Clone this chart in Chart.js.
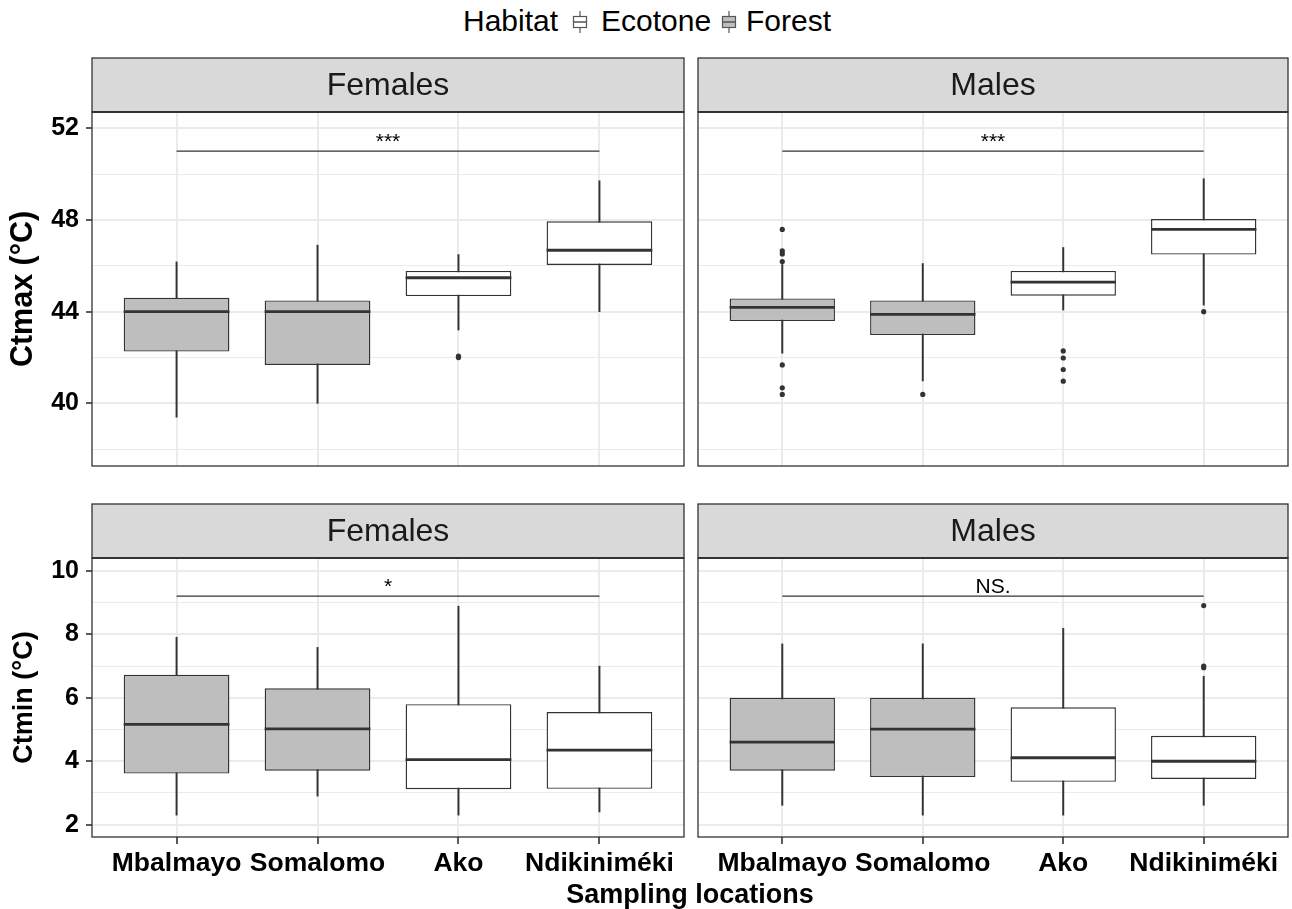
<!DOCTYPE html>
<html>
<head>
<meta charset="utf-8">
<title>Ctmax / Ctmin by sampling location</title>
<script src="https://cdn.jsdelivr.net/npm/chart.js@4.4.1/dist/chart.umd.min.js"></script>
<style>
  html, body { margin: 0; padding: 0; background: #fff; }
  #page { position: relative; width: 1292px; height: 909px; overflow: hidden;
          font-family: 'Liberation Sans', Arial, sans-serif; }
  #page canvas { position: absolute; }
  .lg { position: absolute; top: 3px; font-size: 30px; line-height: 36px; color: #000; white-space: nowrap; }
  .key { position: absolute; top: 10px; }
  #xtitle { position: absolute; left: 440px; width: 500px; top: 879px; text-align: center;
            font-size: 27px; font-weight: bold; line-height: 30px; color: #000; }
</style>
</head>
<body>
<div id="page">
  <span class="lg" style="left:463px">Habitat</span>
  <svg class="key" style="left:572px" width="16" height="24">
    <line x1="8" y1="1" x2="8" y2="23" stroke="#555" stroke-width="1.2"/>
    <rect x="1.5" y="6.5" width="13" height="11" fill="#ffffff" stroke="#555" stroke-width="1.2"/>
    <line x1="1.5" y1="12" x2="14.5" y2="12" stroke="#555" stroke-width="1.5"/>
  </svg>
  <span class="lg" style="left:601px">Ecotone</span>
  <svg class="key" style="left:721px" width="16" height="24">
    <line x1="8" y1="1" x2="8" y2="23" stroke="#555" stroke-width="1.2"/>
    <rect x="1.5" y="6.5" width="13" height="11" fill="#bebebe" stroke="#555" stroke-width="1.2"/>
    <line x1="1.5" y1="12" x2="14.5" y2="12" stroke="#555" stroke-width="1.5"/>
  </svg>
  <span class="lg" style="left:746px">Forest</span>

  <canvas id="ctmax-females" width="690" height="470" style="left:0;top:0"></canvas>
  <canvas id="ctmax-males" width="602" height="470" style="left:690px;top:0"></canvas>
  <canvas id="ctmin-females" width="690" height="439" style="left:0;top:470px"></canvas>
  <canvas id="ctmin-males" width="602" height="439" style="left:690px;top:470px"></canvas>

  <div id="xtitle">Sampling locations</div>
</div>

<script>
  // Categories
  const locations = ['Mbalmayo', 'Somalomo', 'Ako', 'Ndikiniméki'];
  const habitats = ['Forest', 'Forest', 'Ecotone', 'Ecotone'];

  // Y ticks (odd ones are the minor grid lines)
  const ctmaxTicks = [38, 40, 42, 44, 46, 48, 50, 52];
  const ctmaxLabeled = [40, 44, 48, 52];
  const ctminTicks = [2, 3, 4, 5, 6, 7, 8, 9, 10];
  const ctminLabeled = [2, 4, 6, 8, 10];

  // Ctmax - females
  const ctmaxFemLow  = [39.4, 40.0, 43.2, 44.0];
  const ctmaxFemQ1   = [42.26, 41.68, 44.68, 46.04];
  const ctmaxFemMed  = [44.0, 44.0, 45.48, 46.68];
  const ctmaxFemQ3   = [44.61, 44.49, 45.78, 47.94];
  const ctmaxFemHigh = [46.17, 46.9, 46.49, 49.71];
  const ctmaxFemOut  = [[], [], [42.0, 42.06], []];

  // Ctmax - males
  const ctmaxMalLow  = [42.19, 40.98, 44.07, 44.29];
  const ctmaxMalQ1   = [43.59, 42.98, 44.70, 46.49];
  const ctmaxMalMed  = [44.19, 43.88, 45.29, 47.59];
  const ctmaxMalQ3   = [44.58, 44.49, 45.78, 48.04];
  const ctmaxMalHigh = [46.06, 46.1, 46.8, 49.8];
  const ctmaxMalOut  = [[47.59, 46.65, 46.52, 46.19, 41.68, 40.68, 40.39], [40.39], [42.29, 41.98, 41.48, 40.97], [44.0]];

  // Ctmin - females
  const ctminFemLow  = [2.30, 2.90, 2.30, 2.40];
  const ctminFemQ1   = [3.61, 3.70, 3.12, 3.13];
  const ctminFemMed  = [5.16, 5.02, 4.05, 4.35];
  const ctminFemQ3   = [6.73, 6.30, 5.80, 5.55];
  const ctminFemHigh = [7.91, 7.59, 8.89, 7.00];
  const ctminFemOut  = [[], [], [], []];

  // Ctmin - males
  const ctminMalLow  = [2.61, 2.30, 2.30, 2.61];
  const ctminMalQ1   = [3.70, 3.50, 3.35, 3.44];
  const ctminMalMed  = [4.60, 5.01, 4.11, 4.00];
  const ctminMalQ3   = [6.00, 6.00, 5.70, 4.80];
  const ctminMalHigh = [7.70, 7.70, 8.19, 6.68];
  const ctminMalOut  = [[], [], [], [8.91, 7.0, 6.95]];

  // Significance brackets (Mbalmayo vs Ndikiniméki)
  const sigY = [51.0, 51.0, 9.21, 9.21];
  const sigLabels = ['***', '***', '*', 'NS.'];

  const FONT = "'Liberation Sans', Arial, sans-serif";
  const DARK = '#333333';
  const GRID = '#ebebeb';
  const fills = { Forest: '#bebebe', Ecotone: '#ffffff' };

  Chart.defaults.font.family = FONT;
  Chart.defaults.color = '#000';

  // strip, panel border and bracket label
  const panelDecor = {
    id: 'panelDecor',
    afterDraw(chart, args, opts) {
      const { ctx, chartArea: a } = chart;
      const h = 54;
      ctx.save();
      ctx.fillStyle = '#d9d9d9';
      ctx.fillRect(a.left, a.top - h, a.right - a.left, h);
      ctx.strokeStyle = DARK;
      ctx.lineWidth = 1.3;
      ctx.strokeRect(a.left, a.top - h, a.right - a.left, h);
      ctx.strokeRect(a.left, a.top, a.right - a.left, a.bottom - a.top);
      ctx.lineWidth = 2.2;
      ctx.beginPath();
      ctx.moveTo(a.left, a.top);
      ctx.lineTo(a.right, a.top);
      ctx.stroke();

      ctx.fillStyle = '#1a1a1a';
      ctx.font = '32px ' + FONT;
      ctx.textAlign = 'center';
      ctx.textBaseline = 'middle';
      ctx.fillText(opts.strip, (a.left + a.right) / 2, a.top - h / 2 + 1);

      const x = chart.scales.x.getPixelForValue(2.5);
      const y = chart.scales.y.getPixelForValue(opts.sigY) - 3;
      ctx.fillStyle = '#000';
      ctx.font = '21px ' + FONT;
      ctx.textBaseline = 'alphabetic';
      ctx.fillText(opts.sigLabel, x, y);
      ctx.restore();
    }
  };

  function halfBox(chart) {
    const s = chart.scales.x;
    return Math.abs(s.getPixelForValue(1.375) - s.getPixelForValue(1));
  }

  function makePanel(id, p) {
    const boxes = p.q1.map((q, i) => ({ x: i + 1, y: [q, p.q3[i]] }));
    const whiskers = p.low.map((lo, i) => ({ x: i + 1, y: [lo, p.high[i]] }));
    const medians = p.med.map((m, i) => ({ x: i + 1, y: m }));
    const outliers = [];
    p.out.forEach((list, i) => list.forEach(v => outliers.push({ x: i + 1, y: v })));

    return new Chart(document.getElementById(id), {
      type: 'bar',
      data: {
        datasets: [
          {
            type: 'scatter',
            data: medians,
            pointStyle: 'line',
            pointRadius: c => halfBox(c.chart),
            pointBorderColor: DARK,
            pointBorderWidth: 2.8,
            order: 0
          },
          {
            type: 'scatter',
            data: outliers,
            pointRadius: 2.6,
            pointBackgroundColor: DARK,
            pointBorderWidth: 0,
            order: 0
          },
          {
            type: 'line',
            data: [{ x: 1, y: p.sigY }, { x: 4, y: p.sigY }],
            borderColor: DARK,
            borderWidth: 1.3,
            pointRadius: 0,
            order: 0
          },
          {
            type: 'bar',
            data: boxes,
            backgroundColor: habitats.map(h => fills[h]),
            borderColor: DARK,
            borderWidth: 1.4,
            borderSkipped: false,
            barPercentage: 0.75,
            categoryPercentage: 1,
            grouped: false,
            order: 1
          },
          {
            type: 'bar',
            data: whiskers,
            backgroundColor: DARK,
            borderWidth: 0,
            barThickness: 1.3,
            grouped: false,
            order: 2
          }
        ]
      },
      options: {
        responsive: false,
        animation: false,
        events: [],
        layout: { padding: p.padding },
        plugins: {
          legend: { display: false },
          tooltip: { enabled: false },
          panelDecor: { strip: p.strip, sigY: p.sigY, sigLabel: p.sigLabel }
        },
        scales: {
          x: {
            type: 'linear',
            min: 0.4,
            max: 4.6,
            offset: false,
            afterBuildTicks: s => { s.ticks = locations.map((_, i) => ({ value: i + 1 })); },
            afterFit: s => {
              s.height = p.xHeight;
              s.paddingLeft = 0; s.paddingRight = 0;
            },
            border: { display: false },
            grid: {
              offset: false,
              color: GRID,
              lineWidth: 2,
              drawTicks: p.showX,
              tickLength: 7,
              tickColor: DARK,
              tickWidth: 1.6
            },
            ticks: {
              display: p.showX,
              autoSkip: false,
              maxRotation: 0,
              padding: 4,
              color: '#000',
              font: { size: 26.5, weight: 'bold' },
              callback: v => locations[v - 1]
            }
          },
          y: {
            min: p.ymin,
            max: p.ymax,
            beginAtZero: false,
            afterBuildTicks: s => { s.ticks = p.ticks.map(v => ({ value: v })); },
            afterFit: s => {
              s.width = p.yWidth;
              s.paddingTop = 0; s.paddingBottom = 0;
            },
            border: { display: false },
            grid: {
              color: GRID,
              lineWidth: c => (p.labeled.includes(c.tick && c.tick.value) ? 2 : 1),
              drawTicks: p.showY,
              tickLength: 6,
              tickWidth: 1.6,
              tickColor: c => (p.labeled.includes(c.tick && c.tick.value) ? DARK : 'rgba(0,0,0,0)')
            },
            ticks: {
              display: p.showY,
              autoSkip: false,
              padding: 7,
              color: '#000',
              font: { size: 25, weight: 'bold' },
              callback: v => (p.labeled.includes(v) ? String(v) : '')
            },
            title: {
              display: !!p.yTitle,
              text: p.yTitle || '',
              color: '#000',
              font: { size: p.yTitleSize || 27, weight: 'bold' },
              padding: { top: p.yTitlePad || 8, bottom: 0 }
            }
          }
        }
      },
      plugins: [panelDecor]
    });
  }

  makePanel('ctmax-females', {
    strip: 'Females', yTitle: 'Ctmax (°C)', yTitleSize: 30.5, yTitlePad: 5,
    low: ctmaxFemLow, q1: ctmaxFemQ1, med: ctmaxFemMed, q3: ctmaxFemQ3, high: ctmaxFemHigh, out: ctmaxFemOut,
    sigY: sigY[0], sigLabel: sigLabels[0],
    ymin: 37.27, ymax: 52.71, ticks: ctmaxTicks, labeled: ctmaxLabeled,
    showX: false, showY: true, xHeight: 0, yWidth: 92,
    padding: { top: 112, left: 0, right: 6, bottom: 3 }
  });

  makePanel('ctmax-males', {
    strip: 'Males', yTitle: null,
    low: ctmaxMalLow, q1: ctmaxMalQ1, med: ctmaxMalMed, q3: ctmaxMalQ3, high: ctmaxMalHigh, out: ctmaxMalOut,
    sigY: sigY[1], sigLabel: sigLabels[1],
    ymin: 37.27, ymax: 52.71, ticks: ctmaxTicks, labeled: ctmaxLabeled,
    showX: false, showY: false, xHeight: 0, yWidth: 0,
    padding: { top: 112, left: 8, right: 3, bottom: 3 }
  });

  makePanel('ctmin-females', {
    strip: 'Females', yTitle: 'Ctmin (°C)', yTitleSize: 27, yTitlePad: 8,
    low: ctminFemLow, q1: ctminFemQ1, med: ctminFemMed, q3: ctminFemQ3, high: ctminFemHigh, out: ctminFemOut,
    sigY: sigY[2], sigLabel: sigLabels[2],
    ymin: 1.61, ymax: 10.41, ticks: ctminTicks, labeled: ctminLabeled,
    showX: true, showY: true, xHeight: 72, yWidth: 92,
    padding: { top: 88, left: 0, right: 6, bottom: 0 }
  });

  makePanel('ctmin-males', {
    strip: 'Males', yTitle: null,
    low: ctminMalLow, q1: ctminMalQ1, med: ctminMalMed, q3: ctminMalQ3, high: ctminMalHigh, out: ctminMalOut,
    sigY: sigY[3], sigLabel: sigLabels[3],
    ymin: 1.61, ymax: 10.41, ticks: ctminTicks, labeled: ctminLabeled,
    showX: true, showY: false, xHeight: 72, yWidth: 0,
    padding: { top: 88, left: 8, right: 3, bottom: 0 }
  });
</script>
</body>
</html>
